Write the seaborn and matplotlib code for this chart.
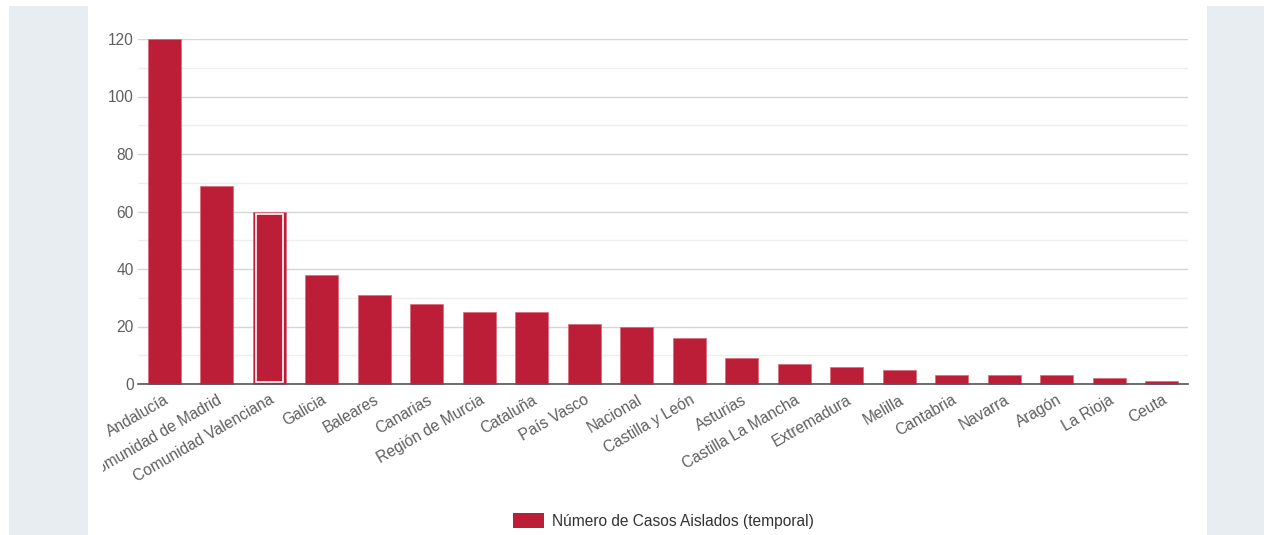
import matplotlib
matplotlib.use("Agg")
import matplotlib.pyplot as plt
import seaborn as sns
import pandas as pd
from matplotlib.patches import Rectangle, Patch
from matplotlib.ticker import MultipleLocator

categories = ["Andalucía", "Comunidad de Madrid", "Comunidad Valenciana", "Galicia",
              "Baleares", "Canarias", "Región de Murcia", "Cataluña", "País Vasco",
              "Nacional", "Castilla y León", "Asturias", "Castilla La Mancha",
              "Extremadura", "Melilla", "Cantabria", "Navarra", "Aragón", "La Rioja", "Ceuta"]
values = [120, 69, 60, 38, 31, 28, 25, 25, 21, 20, 16, 9, 7, 6, 5, 3, 3, 3, 2, 1]
series_name = "Número de Casos Aislados (temporal)"
highlight = "Comunidad Valenciana"

BAR = "#bc1e37"
TXT = "#5f5f5f"
FS = 11.2

sns.set_theme(style="white")
plt.rcParams["font.family"] = ["Liberation Sans", "DejaVu Sans"]

df = pd.DataFrame({"region": categories, "casos": values})

fig = plt.figure(figsize=(12.67, 5.35), dpi=100)
W, H = 1267, 535
fig.patch.set_facecolor("white")
# side panels
for x0, x1 in [(9, 88), (1207, 1264)]:
    fig.patches.append(Rectangle((x0 / W, 0), (x1 - x0) / W, (H - 6) / H,
                                 transform=fig.transFigure, facecolor="#e8edf1",
                                 edgecolor="none", zorder=-10))

ax = fig.add_axes([138 / W, (H - 384) / H, (1188 - 138) / W, (384 - 39) / H])
ax.set_facecolor("white")
sns.barplot(data=df, x="region", y="casos", color=BAR, width=0.63,
            saturation=1, ax=ax, zorder=3)
for p in ax.patches:
    p.set_edgecolor("#d9687a")
    p.set_linewidth(0.5)
    p.set_clip_on(False)

# hover highlight on one bar (white inner border)
idx = categories.index(highlight)
bp = ax.patches[idx]
ax.add_patch(Rectangle((bp.get_x() + 0.06, 0.6), bp.get_width() - 0.12,
                       bp.get_height() - 1.4, facecolor="none",
                       edgecolor="white", linewidth=1.2, zorder=4))

ax.set_ylim(0, 120)
ax.set_xlim(-0.5, len(categories) - 0.5)
ax.yaxis.set_major_locator(MultipleLocator(20))
ax.yaxis.set_minor_locator(MultipleLocator(10))
ax.grid(axis="y", which="major", color="#d6d6d6", linewidth=1.0, zorder=0)
ax.grid(axis="y", which="minor", color="#eeeeee", linewidth=1.0, zorder=0)
ax.set_axisbelow(True)
for s in ["top", "right", "left"]:
    ax.spines[s].set_visible(False)
ax.spines["bottom"].set_color("#555555")
ax.spines["bottom"].set_linewidth(1.2)
ax.spines["bottom"].set_zorder(5)
ax.set_xlabel("")
ax.set_ylabel("")
ax.tick_params(axis="y", which="both", length=0, pad=3, labelsize=FS, labelcolor=TXT)
ax.tick_params(axis="x", length=0, pad=6, labelsize=FS, labelcolor=TXT)

clip = Rectangle((103 / W, 0), 1, 1, transform=fig.transFigure)
ax.set_xticks(range(len(categories)))
labels = ax.set_xticklabels(categories, rotation=30, ha="right",
                            rotation_mode="anchor", va="top")
for t in labels:
    t.set_clip_path(clip)
    t.set_clip_on(True)

handle = Patch(facecolor=BAR, edgecolor="none")
fig.legend([handle], [series_name], loc="center", bbox_to_anchor=(663 / W, 14 / H),
           frameon=False, fontsize=FS, labelcolor="#333333",
           handlelength=2.0, handleheight=1.1, handletextpad=0.5)

fig.savefig("out.png", dpi=100, facecolor="white")
